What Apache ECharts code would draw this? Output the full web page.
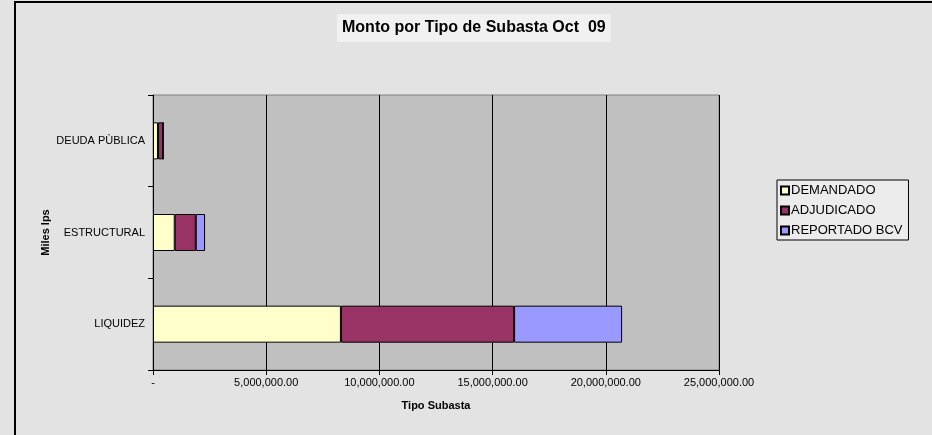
<!DOCTYPE html>
<html>
<head>
<meta charset="utf-8">
<title>Monto por Tipo de Subasta Oct 09</title>
<script src="https://cdn.jsdelivr.net/npm/echarts@6/dist/echarts.min.js"></script>
<style>
    html, body {
        margin: 0;
        padding: 0;
    }

    #chart {
        width: 932px;
        height: 435px;
    }
</style>
</head>
<body>
<div id="chart"></div>
<script>
// categorías (de abajo hacia arriba, como en el eje de ECharts)
const categories = ['LIQUIDEZ', 'ESTRUCTURAL', 'DEUDA PÙBLICA'];

// montos en miles de Bs.
const demandado = [8300000, 960000, 220000];
const adjudicado = [7650000, 930000, 230000];
const reportadoBcv = [4770000, 410000, 0];

const xTickLabels = ['-', '5,000,000.00', '10,000,000.00', '15,000,000.00', '20,000,000.00', '25,000,000.00'];

const chart = echarts.init(document.getElementById('chart'));

const fontFamily = '"Liberation Sans", Arial, sans-serif';

const barStyle = (color) => ({
    color: color,
    borderColor: '#000',
    borderWidth: 1
});

const option = {
    backgroundColor: '#e3e3e3',
    animation: false,
    textStyle: {
        fontFamily: fontFamily
    },
    title: {
        text: 'Monto por Tipo de Subasta Oct  09',
        left: 337,
        top: 14,
        padding: [6, 5],
        backgroundColor: '#f1f1f1',
        textStyle: {
            fontFamily: fontFamily,
            fontSize: 16,
            fontWeight: 'bold',
            color: '#000'
        }
    },
    legend: {
        orient: 'vertical',
        left: 777,
        top: 180,
        padding: [4, 6, 3, 3],
        itemGap: 7,
        itemWidth: 8,
        itemHeight: 8,
        icon: 'rect',
        backgroundColor: '#ececec',
        borderColor: '#000',
        borderWidth: 1,
        borderRadius: 0,
        selectedMode: false,
        textStyle: {
            fontFamily: fontFamily,
            fontSize: 13,
            color: '#000',
            padding: [0, 0, 0, -3]
        },
        data: ['DEMANDADO', 'ADJUDICADO', 'REPORTADO BCV']
    },
    grid: {
        left: 153,
        right: 213,
        top: 95,
        bottom: 65,
        show: true,
        backgroundColor: '#c0c0c0',
        borderColor: '#808080',
        borderWidth: 1
    },
    xAxis: {
        type: 'value',
        min: 0,
        max: 25000000,
        interval: 5000000,
        name: 'Tipo Subasta',
        nameLocation: 'middle',
        nameGap: 30,
        nameTextStyle: {
            fontFamily: fontFamily,
            fontSize: 11,
            fontWeight: 'bold',
            color: '#000'
        },
        axisLine: {
            show: true,
            lineStyle: { color: '#000', width: 1 }
        },
        axisTick: {
            show: true,
            length: 5,
            lineStyle: { color: '#000' }
        },
        axisLabel: {
            fontSize: 11,
            color: '#000',
            margin: 7,
            formatter: (value) => xTickLabels[Math.round(value / 5000000)]
        },
        splitLine: {
            show: true,
            lineStyle: { color: '#000', width: 1 }
        }
    },
    yAxis: {
        type: 'category',
        data: categories,
        name: 'Miles lps',
        nameLocation: 'middle',
        nameGap: 102,
        nameMoveOverlap: false,
        nameRotate: 90,
        nameTextStyle: {
            fontFamily: fontFamily,
            fontSize: 11,
            fontWeight: 'bold',
            color: '#000'
        },
        axisLine: {
            show: true,
            lineStyle: { color: '#000', width: 1 }
        },
        axisTick: {
            show: true,
            length: 5,
            lineStyle: { color: '#000' }
        },
        axisLabel: {
            fontSize: 11,
            color: '#000',
            margin: 8
        },
        splitLine: { show: false }
    },
    series: [
        {
            name: 'DEMANDADO',
            type: 'bar',
            stack: 'total',
            barWidth: 37,
            data: demandado,
            itemStyle: barStyle('#ffffcc')
        },
        {
            name: 'ADJUDICADO',
            type: 'bar',
            stack: 'total',
            barWidth: 37,
            data: adjudicado,
            itemStyle: barStyle('#993366')
        },
        {
            name: 'REPORTADO BCV',
            type: 'bar',
            stack: 'total',
            barWidth: 37,
            data: reportadoBcv,
            itemStyle: barStyle('#9999ff')
        }
    ],
    graphic: [
        // marco del área del gráfico (solo borde izquierdo y superior visibles)
        {
            type: 'polyline',
            silent: true,
            shape: { points: [[15, 435], [15, 2], [932, 2]] },
            style: { stroke: '#000', lineWidth: 2, fill: null }
        }
    ]
};

chart.setOption(option);
</script>
</body>
</html>
